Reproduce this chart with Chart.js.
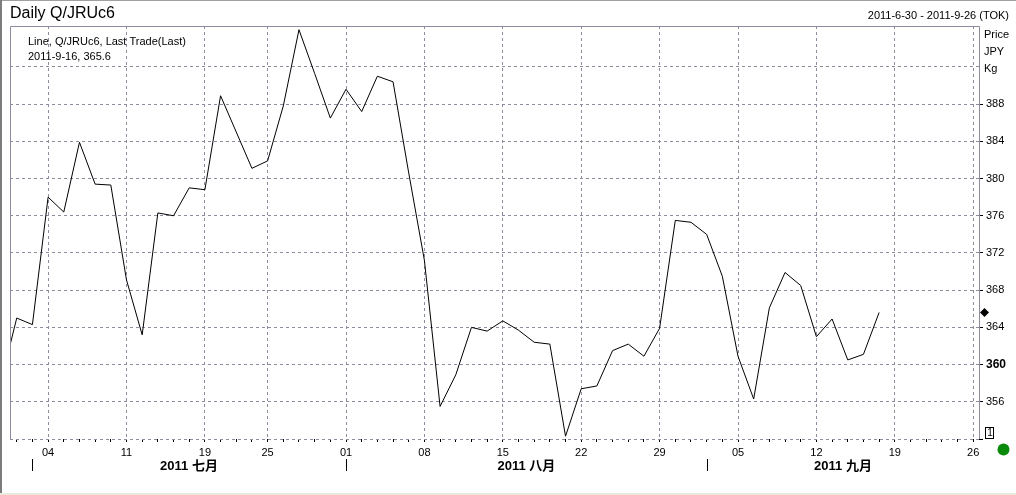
<!DOCTYPE html>
<html lang="zh">

<head>
    <meta charset="UTF-8">
    <title>Daily Q/JRUc6</title>
    <script src="https://cdn.jsdelivr.net/npm/chart.js"></script>
    <style>
        html, body {
            margin: 0;
            padding: 0;
            background: #ffffff;
            overflow: hidden;
        }
        #chart {
            display: block;
        }
    </style>
</head>

<body>
    <canvas id="chart" width="1016" height="495"></canvas>

    <script>
        // Trading days on the axis (first one sits just left of the visible area)
        const days = [
            '06-29', '06-30', '07-01', '07-04', '07-05', '07-06', '07-07', '07-08',
            '07-11', '07-12', '07-13', '07-14', '07-15', '07-19', '07-20', '07-21', '07-22',
            '07-25', '07-26', '07-27', '07-28', '07-29', '08-01', '08-02', '08-03', '08-04', '08-05',
            '08-08', '08-09', '08-10', '08-11', '08-12', '08-15', '08-16', '08-17', '08-18', '08-19',
            '08-22', '08-23', '08-24', '08-25', '08-26', '08-29', '08-30', '08-31', '09-01', '09-02',
            '09-05', '09-06', '09-07', '09-08', '09-09', '09-12', '09-13', '09-14', '09-15', '09-16',
            '09-19', '09-20', '09-21', '09-22', '09-23', '09-26'
        ];

        // Last trade, JPY/kg (one per trading day up to 2011-9-16)
        const prices = [
            358.2, 365.0, 364.3, 378.0, 376.4, 383.9, 379.4, 379.3,
            369.1, 363.2, 376.3, 376.0, 379.0, 378.8, 388.9, 385.0, 381.1,
            381.9, 387.8, 396.0, 391.3, 386.5, 389.6, 387.2, 391.0, 390.4, 380.6,
            371.2, 355.5, 358.9, 364.0, 363.6, 364.7, 363.7, 362.4, 362.2, 352.3,
            357.4, 357.7, 361.5, 362.2, 360.9, 363.9, 375.5, 375.3, 374.0, 369.5,
            360.9, 356.3, 366.1, 369.9, 368.5, 363.0, 364.9, 360.5, 361.1, 365.6
        ];

        // Days that get a gridline and a label
        const gridDays = ['07-04', '07-11', '07-19', '07-25', '08-01', '08-08', '08-15',
            '08-22', '08-29', '09-05', '09-12', '09-19', '09-26'];

        // Month bands under the axis
        const monthStarts = ['07-01', '08-01', '09-01'];
        const monthLabels = ['2011 七月', '2011 八月', '2011 九月'];

        const yTicks = [352, 356, 360, 364, 368, 372, 376, 380, 384, 388, 392];
        const yLabelled = [356, 360, 364, 368, 372, 376, 380, 384, 388];

        const FONT = '"Liberation Sans", Arial, "Noto Sans CJK SC", sans-serif';
        const GRID = '#8c8c9e';

        const points = prices.map((p, i) => ({ x: i, y: p }));
        const lastPrice = prices[prices.length - 1];
        const lastDate = '2011-9-16';

        // Frame, titles and side notes
        const decor = {
            id: 'decor',
            beforeDraw(chart) {
                const c = chart.ctx;
                c.save();
                c.fillStyle = '#ffffff';
                c.fillRect(0, 0, chart.width, chart.height);
                c.restore();
            },
            afterDraw(chart) {
                const c = chart.ctx;
                const a = chart.chartArea;
                const xs = chart.scales.x;
                const ys = chart.scales.y;
                c.save();

                // window edges
                c.fillStyle = '#a0a0a0';
                c.fillRect(0, 0, chart.width, 1);
                c.fillStyle = '#7c7c7c';
                c.fillRect(0, 0, 2, 493);
                c.fillStyle = '#ece9d8';
                c.fillRect(0, 493, chart.width, 2);

                // plot frame (left, top, right) solid
                c.strokeStyle = GRID;
                c.lineWidth = 1;
                c.setLineDash([]);
                c.beginPath();
                c.moveTo(a.left + 0.5, a.bottom);
                c.lineTo(a.left + 0.5, a.top + 0.5);
                c.lineTo(a.right + 0.5, a.top + 0.5);
                c.lineTo(a.right + 0.5, a.bottom);
                c.stroke();

                c.fillStyle = '#000000';
                c.textBaseline = 'middle';

                c.font = '16px ' + FONT;
                c.textAlign = 'left';
                c.fillText('Daily Q/JRUc6', 10, 14);

                c.font = '11px ' + FONT;
                c.textAlign = 'right';
                c.fillText('2011-6-30 - 2011-9-26 (TOK)', 1009, 16);

                c.textAlign = 'left';
                c.fillText('Line, Q/JRUc6, Last Trade(Last)', 28, 42);
                c.fillText(lastDate + ', ' + lastPrice.toFixed(1), 28, 57);

                c.fillText('Price', 984, 35);
                c.fillText('JPY', 984, 52);
                c.fillText('Kg', 984, 69);

                // last value marker
                const yl = Math.round(ys.getPixelForValue(lastPrice)) + 0.5;
                c.beginPath();
                c.moveTo(984.5, yl - 4.5);
                c.lineTo(989, yl);
                c.lineTo(984.5, yl + 4.5);
                c.lineTo(980, yl);
                c.closePath();
                c.fill();

                // pane number box
                c.strokeStyle = '#000000';
                c.strokeRect(985.5, 427.5, 8, 11);
                c.font = '10px ' + FONT;
                c.textAlign = 'center';
                c.fillText('1', 990, 433);

                // status dot
                c.fillStyle = '#0a8a0a';
                c.beginPath();
                c.arc(1003.5, 449.5, 6, 0, Math.PI * 2);
                c.fill();

                // month separators and labels
                c.fillStyle = '#000000';
                c.font = 'bold 13px ' + FONT;
                c.textAlign = 'center';
                monthStarts.forEach((d, i) => {
                    const x0 = Math.round(xs.getPixelForValue(days.indexOf(d)));
                    const x1 = i + 1 < monthStarts.length
                        ? xs.getPixelForValue(days.indexOf(monthStarts[i + 1]))
                        : a.right;
                    c.fillRect(x0, 459, 1, 12);
                    c.fillText(monthLabels[i], (x0 + x1) / 2, 466);
                });

                c.restore();
            }
        };

        new Chart(document.getElementById('chart'), {
            type: 'line',
            data: {
                datasets: [{
                    label: 'Q/JRUc6',
                    data: points,
                    borderColor: '#000000',
                    borderWidth: 1,
                    pointRadius: 0,
                    tension: 0,
                    fill: false
                }]
            },
            options: {
                responsive: false,
                animation: false,
                layout: { padding: { left: 10, top: 26, right: 0, bottom: 0 } },
                plugins: {
                    legend: { display: false },
                    tooltip: { enabled: false }
                },
                scales: {
                    x: {
                        type: 'linear',
                        min: 0.57,
                        max: 62.37,
                        afterBuildTicks: (s) => {
                            s.ticks = days.map((d, i) => ({ value: i })).filter(t => t.value >= 1);
                        },
                        afterFit: (s) => { s.height = 56; },
                        ticks: {
                            autoSkip: false,
                            maxRotation: 0,
                            padding: 4,
                            color: '#000000',
                            font: { family: FONT, size: 11 },
                            callback: (v) => gridDays.includes(days[v]) ? days[v].slice(3) : ''
                        },
                        grid: {
                            color: (ctx) => ctx.tick && gridDays.includes(days[ctx.tick.value]) ? GRID : 'rgba(0,0,0,0)',
                            tickColor: '#000000',
                            tickLength: 3,
                            lineWidth: 1
                        },
                        border: { display: false, dash: [3, 3] }
                    },
                    y: {
                        type: 'linear',
                        position: 'right',
                        min: 352,
                        max: 396.4,
                        afterBuildTicks: (s) => {
                            s.ticks = yTicks.map(v => ({ value: v }));
                        },
                        afterFit: (s) => { s.width = 37; },
                        ticks: {
                            padding: 3,
                            color: '#000000',
                            font: (ctx) => ({
                                family: FONT,
                                size: ctx.tick && ctx.tick.value === 360 ? 12 : 11,
                                weight: ctx.tick && ctx.tick.value === 360 ? 'bold' : 'normal'
                            }),
                            callback: (v) => yLabelled.includes(v) ? String(v) : ''
                        },
                        grid: {
                            color: GRID,
                            tickColor: (ctx) => ctx.tick && ctx.tick.value === 392 ? 'rgba(0,0,0,0)' : '#000000',
                            tickLength: 4,
                            lineWidth: 1
                        },
                        border: { display: false, dash: [3, 3] }
                    }
                }
            },
            plugins: [decor]
        });
    </script>
</body>

</html>
